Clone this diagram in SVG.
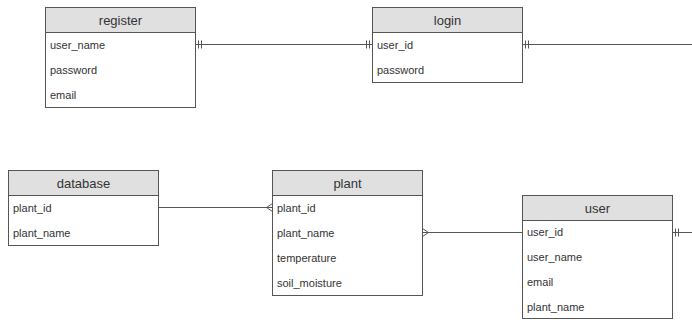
<svg xmlns="http://www.w3.org/2000/svg" width="692" height="320" viewBox="0 0 692 320">
<style>
.box{fill:#ffffff;stroke:#555555;stroke-width:1}
.hdr{fill:#e0e0e0;stroke:#555555;stroke-width:1}
.ttl{font-family:"Liberation Sans",Arial,sans-serif;font-size:13px;fill:#333333;text-anchor:middle}
.row{font-family:"Liberation Sans",Arial,sans-serif;font-size:11px;fill:#333333}
.ln{fill:none;stroke:#555555;stroke-width:1}
</style>
<rect width="692" height="320" fill="#ffffff"/>
<g id="register">
<rect class="box" x="45.5" y="7.5" width="150" height="100"/>
<rect class="hdr" x="45.5" y="7.5" width="150" height="25"/>
<text class="ttl" x="120.5" y="25">register</text>
<text class="row" x="50" y="49">user_name</text>
<text class="row" x="50" y="74">password</text>
<text class="row" x="50" y="99">email</text>
</g>
<g id="login">
<rect class="box" x="372.5" y="7.5" width="150" height="75"/>
<rect class="hdr" x="372.5" y="7.5" width="150" height="25"/>
<text class="ttl" x="447.5" y="25">login</text>
<text class="row" x="377" y="49">user_id</text>
<text class="row" x="377" y="74">password</text>
</g>
<g id="database">
<rect class="box" x="8.5" y="170.5" width="150" height="75"/>
<rect class="hdr" x="8.5" y="170.5" width="150" height="25"/>
<text class="ttl" x="83.5" y="188">database</text>
<text class="row" x="13" y="212">plant_id</text>
<text class="row" x="13" y="237">plant_name</text>
</g>
<g id="plant">
<rect class="box" x="272.5" y="170.5" width="150" height="125"/>
<rect class="hdr" x="272.5" y="170.5" width="150" height="25"/>
<text class="ttl" x="347.5" y="188">plant</text>
<text class="row" x="277" y="212">plant_id</text>
<text class="row" x="277" y="237">plant_name</text>
<text class="row" x="277" y="262">temperature</text>
<text class="row" x="277" y="287">soil_moisture</text>
</g>
<g id="user">
<rect class="box" x="522.5" y="195.5" width="150" height="123"/>
<rect class="hdr" x="522.5" y="195.5" width="150" height="25"/>
<text class="ttl" x="597.5" y="213">user</text>
<text class="row" x="527" y="236">user_id</text>
<text class="row" x="527" y="261">user_name</text>
<text class="row" x="527" y="286">email</text>
<text class="row" x="527" y="311">plant_name</text>
</g>
<g id="connectors">
<path class="ln" d="M195.5 44.5H372.5"/>
<path class="ln" d="M198.5 40.5V48.5M201.5 40.5V48.5"/>
<path class="ln" d="M366.5 40.5V48.5M369.5 40.5V48.5"/>
<path class="ln" d="M522.5 44.5H692"/>
<path class="ln" d="M525.5 40.5V48.5M528.5 40.5V48.5"/>
<path class="ln" d="M158.5 207.5H272.5"/>
<path class="ln" d="M272.5 203.5L266.5 207.5L272.5 211.5"/>
<path class="ln" d="M422.5 232.5H522.5"/>
<path class="ln" d="M422.5 228.5L428.5 232.5L422.5 236.5"/>
<path class="ln" d="M672.5 232.5H692"/>
<path class="ln" d="M675.5 228.5V236.5M678.5 228.5V236.5"/>
</g>
</svg>
